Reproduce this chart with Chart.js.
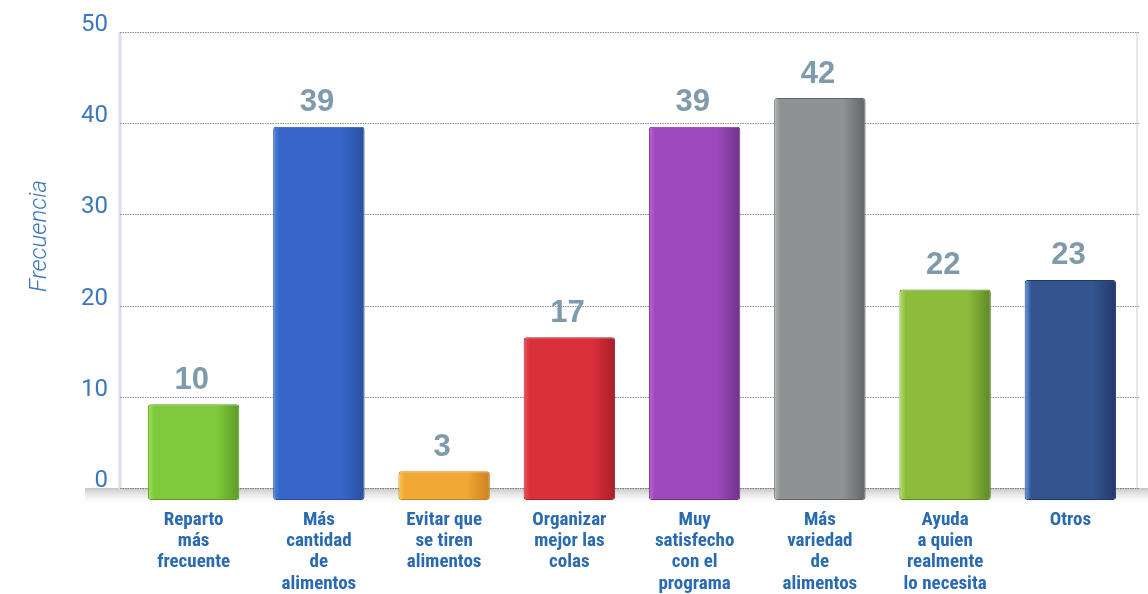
<!DOCTYPE html>
<html>
<head>
<meta charset="utf-8">
<script src="https://cdn.jsdelivr.net/npm/chart.js@4.4.1/dist/chart.umd.min.js"></script>
<style>
html,body{margin:0;padding:0;background:#fff;}
#wrap{width:1148px;height:594px;position:relative;}
</style>
</head>
<body>
<div id="wrap"><canvas id="c" width="1148" height="594"></canvas></div>
<script>
// ---- data ----
const categories = [
  ["Reparto","más","frecuente"],
  ["Más","cantidad","de","alimentos"],
  ["Evitar que","se tiren","alimentos"],
  ["Organizar","mejor las","colas"],
  ["Muy","satisfecho","con el","programa"],
  ["Más","variedad","de","alimentos"],
  ["Ayuda","a quien","realmente","lo necesita"],
  ["Otros"]
];
const frecuencia = [10, 39, 3, 17, 39, 42, 22, 23];
const yTicks = [0, 10, 20, 30, 40, 50];
const yTitle = "Frecuencia";

// ---- styles ----
const barLight = ['#a2e257','#4f86e2','#f9c850','#ee5258','#c262da','#b4b8b8','#b8e262','#69a0ec'];
const barMain  = ['#7fca3a','#3566c8','#f2a835','#d9303a','#9e48bc','#8e9292','#8cbc3c','#33548f'];
const barDark  = ['#5c9a26','#2a4f9e','#c98220','#a82028','#6f3288','#626666','#5f8826','#24396a'];

const BLUE = '#3b77bd';
const VAL = '#7f9aab';

function barGradient(c){
  const chart = c.chart, i = c.dataIndex;
  const xs = chart.scales.x;
  if (!chart.chartArea || !xs) return barMain[i];
  const band = (xs.right - xs.left) / categories.length;
  const w = band * 0.73;
  const x = xs.getPixelForValue(i);
  const g = chart.ctx.createLinearGradient(x - w/2, 0, x + w/2, 0);
  g.addColorStop(0, barLight[i]);
  g.addColorStop(0.07, barMain[i]);
  g.addColorStop(0.75, barMain[i]);
  g.addColorStop(1, barDark[i]);
  return g;
}

const wallPlugin = {
  id: 'wall',
  beforeDatasetsDraw(chart){
    const ctx = chart.ctx, ca = chart.chartArea, ys = chart.scales.y;
    const L = ca.left - 11, R = ca.right + 7;
    const y0 = ys.getPixelForValue(0), yTop = ys.getPixelForValue(50);
    ctx.save();
    // floor shadow
    const fg = ctx.createLinearGradient(0, y0, 0, y0 + 18);
    fg.addColorStop(0, 'rgba(150,150,150,0.55)');
    fg.addColorStop(1, 'rgba(255,255,255,0)');
    ctx.fillStyle = fg;
    ctx.fillRect(L - 35, y0, R - L + 45, 18);
    // left wall
    ctx.strokeStyle = '#dcdcec';
    ctx.lineWidth = 3;
    ctx.beginPath(); ctx.moveTo(L, yTop); ctx.lineTo(L, y0 + 2); ctx.stroke();
    // right wall
    ctx.strokeStyle = '#e6e6f0';
    ctx.lineWidth = 2;
    ctx.beginPath(); ctx.moveTo(R - 3, yTop); ctx.lineTo(R - 3, y0); ctx.stroke();
    // grid lines
    ctx.strokeStyle = 'rgba(105,105,105,0.75)';
    ctx.lineWidth = 1;
    ctx.setLineDash([1.5, 1]);
    yTicks.forEach(v => {
      const y = Math.round(ys.getPixelForValue(v)) + 0.5;
      ctx.beginPath(); ctx.moveTo(L, y); ctx.lineTo(R, y); ctx.stroke();
    });
    ctx.restore();
  },
  afterDatasetsDraw(chart){
    const ctx = chart.ctx;
    const meta = chart.getDatasetMeta(0);
    ctx.save();
    ctx.fillStyle = VAL;
    ctx.font = 'bold 31px "Liberation Sans", Arial, sans-serif';
    ctx.textAlign = 'center';
    ctx.textBaseline = 'middle';
    meta.data.forEach((bar, i) => {
      ctx.fillText(String(frecuencia[i]), bar.x - 2, bar.y - 24);
    });
    // y title
    ctx.fillStyle = BLUE;
    ctx.font = 'italic 300 24px Roboto, sans-serif';
    ctx.translate(40, 236);
    ctx.rotate(-Math.PI/2);
    ctx.fillText(yTitle, 0, 0);
    ctx.restore();
  }
};

new Chart(document.getElementById('c'), {
  type: 'bar',
  data: {
    labels: categories,
    datasets: [{
      data: frecuencia,
      yAxisID: 'yb',
      backgroundColor: barGradient,
      borderColor: barDark,
      borderWidth: 1,
      borderRadius: 3,
      borderSkipped: false,
      barPercentage: 0.73,
      categoryPercentage: 1.0
    }]
  },
  options: {
    responsive: false,
    animation: false,
    devicePixelRatio: 1,
    layout: { padding: { top: 21.5, right: 15, left: 0, bottom: 0 } },
    plugins: { legend: { display: false }, tooltip: { enabled: false }, title: { display: false } },
    scales: {
      x: {
        offset: true,
        afterFit(scale){ scale.height = 94; scale.paddingLeft = 0; scale.paddingRight = 0; },
        grid: { display: false, drawTicks: false },
        border: { display: false },
        ticks: {
          color: '#2a6ab0',
          font: { family: '"Liberation Sans Narrow", "Roboto Condensed", Roboto, sans-serif', weight: 'bold', size: 19, lineHeight: 1.11 },
          padding: 10,
          maxRotation: 0,
          autoSkip: false
        }
      },
      y: {
        position: 'left',
        min: -1.316,
        max: 51.15,
        afterBuildTicks(axis){ axis.ticks = yTicks.map(v => ({ value: v })); },
        afterFit(scale){ scale.width = 131; scale.paddingTop = 0; scale.paddingBottom = 0; },
        grid: { display: false, drawTicks: false },
        border: { display: false },
        ticks: {
          color: BLUE,
          font: { family: 'Roboto, sans-serif', weight: '400', size: 24 },
          padding: 23,
          labelOffset: -7
        }
      },
      yb: {
        display: false,
        min: 0,
        max: 50,
        afterFit(scale){ scale.paddingTop = 0; scale.paddingBottom = 0; }
      }
    }
  },
  plugins: [wallPlugin]
});
</script>
</body>
</html>
